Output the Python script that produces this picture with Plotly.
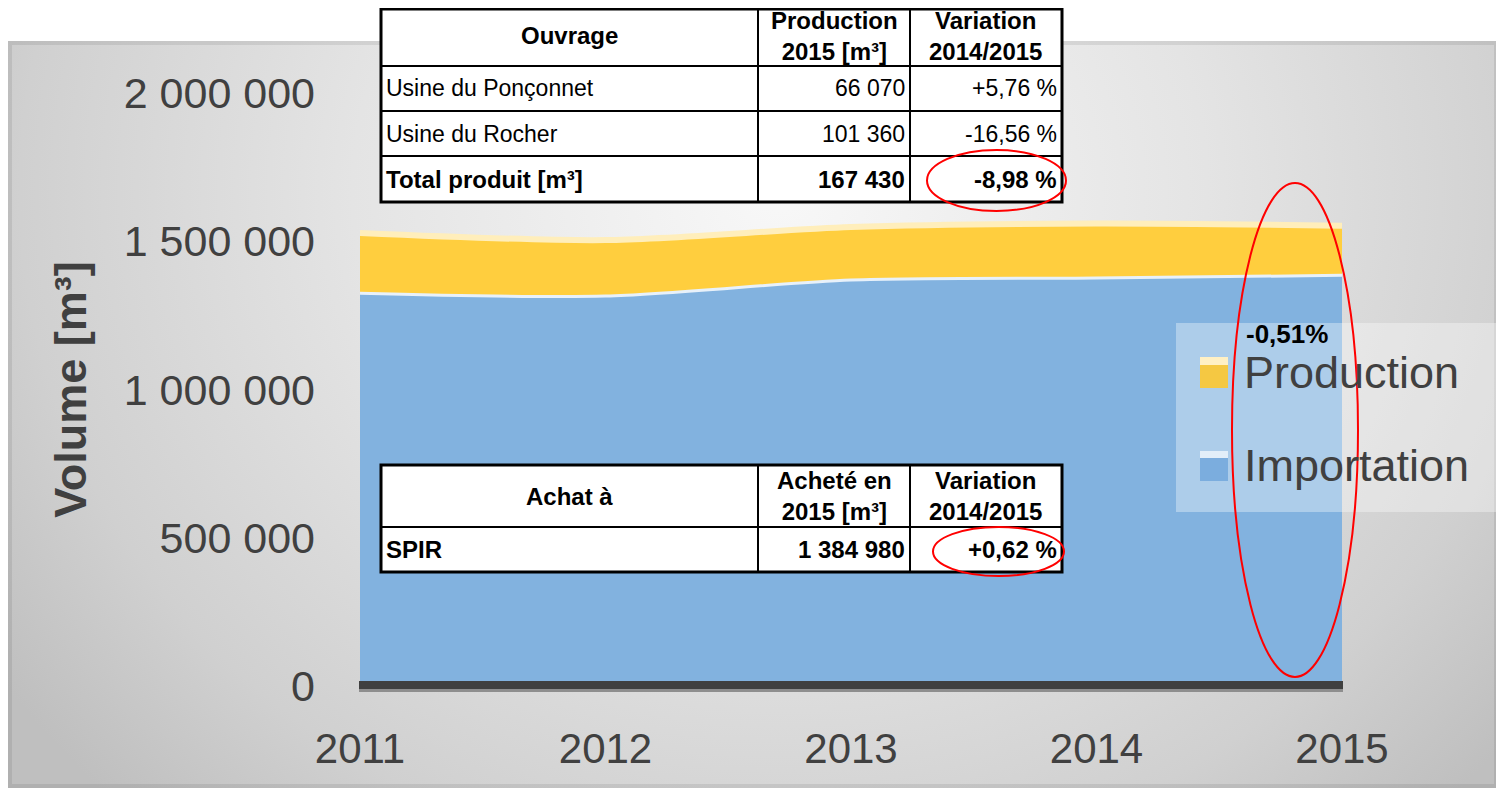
import base64
import plotly.graph_objects as go

# ---------------- data ----------------
years = ['2011', '2012', '2013', '2014', '2015']
importation = [1325000, 1315000, 1369000, 1376000, 1384980]
production = [203000, 189000, 179000, 184000, 167430]

y_tickvals = [0, 500000, 1000000, 1500000, 2000000]
y_ticktext = ['0', '500 000', '1 000 000', '1 500 000', '2 000 000']

t1_header = ['Ouvrage', 'Production<br>2015 [m³]', 'Variation<br>2014/2015']
t1_ouvrage = ['Usine du Ponçonnet', 'Usine du Rocher', 'Total produit [m³]']
t1_production = ['66 070', '101 360', '167 430']
t1_variation = ['+5,76 %', '-16,56 %', '-8,98 %']

t2_header = ['Achat à', 'Acheté en<br>2015 [m³]', 'Variation<br>2014/2015']
t2_achat = ['SPIR']
t2_achete = ['1 384 980']
t2_variation = ['+0,62 %']

legend_labels = ['Production', 'Importation']
total_variation_label = '-0,51%'
y_title = 'Volume [m³]'

# ---------------- helpers ----------------
# the page body has an 8px margin: the figure is sized and positioned to fill the window
OX, OY = 8, 8
W, H = 1496, 784
FONT = 'Liberation Sans, Arial, sans-serif'
GREY_TXT = '#404040'
YELLOW = '#FFCE3E'
BLUE = '#82B2DF'


def px(x):
    return (x - OX) / W


def py(y):
    return 1 - (y - OY) / H


def rect(x0, y0, x1, y1, fill=None, line_color=None, lw=0, layer='above'):
    d = dict(type='rect', xref='paper', yref='paper', x0=px(x0), x1=px(x1), y0=py(y1), y1=py(y0),
             line=dict(width=lw, color=line_color or 'rgba(0,0,0,0)'), layer=layer)
    if fill:
        d['fillcolor'] = fill
    return d


def hline(x0, x1, y, lw=2):
    return dict(type='line', xref='paper', yref='paper', x0=px(x0), x1=px(x1), y0=py(y), y1=py(y),
                line=dict(color='black', width=lw), layer='above')


def vline(x, y0, y1, lw=2):
    return dict(type='line', xref='paper', yref='paper', x0=px(x), x1=px(x), y0=py(y0), y1=py(y1),
                line=dict(color='black', width=lw), layer='above')


def txt(text, x, y, anchor, size, bold=False, color='black'):
    return dict(text=f'<b>{text}</b>' if bold else text, xref='paper', yref='paper',
                x=px(x), y=py(y), xanchor=anchor, yanchor='middle', showarrow=False,
                borderpad=0, align='center', font=dict(family=FONT, size=size, color=color))


# background gradient panel (svg data uri)
svg = '''<svg xmlns="http://www.w3.org/2000/svg" width="1490" height="747" viewBox="0 0 1490 747">
<defs><radialGradient id="g" gradientUnits="userSpaceOnUse" cx="0" cy="0" r="950"
 gradientTransform="translate(772,150) scale(1,0.9)">
<stop offset="0" stop-color="#f8f8f8"/><stop offset="0.45" stop-color="#e4e4e4"/>
<stop offset="0.8" stop-color="#d0d0d0"/><stop offset="1" stop-color="#bfbfbf"/>
</radialGradient></defs>
<rect width="1490" height="747" fill="url(#g)"/>
<rect x="2" y="2" width="1486" height="743" fill="none" stroke="#000" stroke-opacity="0.08" stroke-width="4"/>
</svg>'''
svg_uri = 'data:image/svg+xml;base64,' + base64.b64encode(svg.encode()).decode()

fig = go.Figure()

fig.add_trace(go.Scatter(
    x=years, y=importation, name=legend_labels[1], stackgroup='one', mode='lines',
    line=dict(color='#e8f1fa', width=3, shape='spline', smoothing=0.8),
    fillcolor=BLUE, showlegend=False, hoverinfo='x+y'))
fig.add_trace(go.Scatter(
    x=years, y=production, name=legend_labels[0], stackgroup='one', mode='lines',
    line=dict(color='#ffeebb', width=6, shape='spline', smoothing=0.8),
    fillcolor=YELLOW, showlegend=False, hoverinfo='x+y'))

# ---------------- tables (page pixel geometry) ----------------
col_x = [381, 758, 910, 1062]
t1_rows = [9, 66, 111, 156, 202]
t2_rows = [465, 527, 572]
REG, BOLD = 23, 24

shapes = [
    # axis floor band
    rect(359, 689, 1343, 692, fill='#8e8e8e'),
    rect(359, 681, 1343, 689, fill='#404040'),
]
annotations = []


def add_table(rows, header, columns, bold_rows, header_dy=0):
    shapes.append(rect(col_x[0], rows[0], col_x[-1], rows[-1], fill='white'))
    for y in rows[1:-1]:
        shapes.append(hline(col_x[0], col_x[-1], y))
    for x in col_x[1:-1]:
        shapes.append(vline(x, rows[0], rows[-1]))
    shapes.append(rect(col_x[0], rows[0], col_x[-1], rows[-1], line_color='black', lw=3))
    hy = (rows[0] + rows[1]) / 2 + header_dy
    for c, h in enumerate(header):
        annotations.append(txt(h, (col_x[c] + col_x[c + 1]) / 2, hy, 'center', BOLD, bold=True))
    for r in range(len(columns[0])):
        cy = (rows[r + 1] + rows[r + 2]) / 2
        b = bold_rows[r]
        size = BOLD if b else REG
        annotations.append(txt(columns[0][r], col_x[0] + 4, cy, 'left', size, bold=b))
        annotations.append(txt(columns[1][r], col_x[2] - 4, cy, 'right', size, bold=b))
        annotations.append(txt(columns[2][r], col_x[3] - 4, cy, 'right', size, bold=b))


add_table(t1_rows, t1_header, [t1_ouvrage, t1_production, t1_variation], [False, False, True],
          header_dy=-2)
add_table(t2_rows, t2_header, [t2_achat, t2_achete, t2_variation], [True])

shapes += [
    # legend box and swatches
    rect(1176, 323, 1496, 512, fill='rgba(255,255,255,0.35)'),
    rect(1200, 357, 1228, 388, fill='#F5C842'),
    rect(1200, 357, 1228, 365, fill='#FFF0C4'),
    rect(1200, 451, 1228, 481, fill='#7BADDE'),
    rect(1200, 451, 1228, 458, fill='#E2EEF9'),
    # red ellipses
    dict(type='circle', xref='paper', yref='paper', x0=px(927), x1=px(1066), y0=py(211), y1=py(150),
         line=dict(color='#FF0000', width=2), layer='above'),
    dict(type='circle', xref='paper', yref='paper', x0=px(933), x1=px(1064), y0=py(576), y1=py(527),
         line=dict(color='#FF0000', width=2), layer='above'),
    dict(type='circle', xref='paper', yref='paper', x0=px(1232), x1=px(1358), y0=py(677), y1=py(183),
         line=dict(color='#FF0000', width=2), layer='above'),
]

annotations += [
    txt(legend_labels[0], 1243, 372, 'left', 45, color=GREY_TXT),
    txt(legend_labels[1], 1243, 466, 'left', 45, color=GREY_TXT),
    txt(total_variation_label, 1245, 334, 'left', 26, bold=True),
]

fig.update_layout(
    width=W, height=H,
    margin=dict(l=0, r=0, t=0, b=0, autoexpand=False),
    paper_bgcolor='white', plot_bgcolor='rgba(0,0,0,0)',
    showlegend=False,
    images=[dict(source=svg_uri, xref='paper', yref='paper', x=px(8), y=py(41),
                 sizex=1490 / W, sizey=747 / H, xanchor='left', yanchor='top',
                 sizing='stretch', layer='below')],
    shapes=shapes, annotations=annotations,
    xaxis=dict(domain=[px(360), px(1342)], type='category', range=[0, 4], automargin=False,
               showgrid=False, zeroline=False, showline=False, ticks='',
               tickfont=dict(family=FONT, size=42, color=GREY_TXT), ticklabelstandoff=34),
    yaxis=dict(domain=[py(686), py(93)], range=[0, 2000000], automargin=False,
               tickvals=y_tickvals, ticktext=y_ticktext,
               showgrid=True, gridcolor='rgba(0,0,0,0.07)', gridwidth=3,
               zeroline=False, showline=False, ticks='',
               tickfont=dict(family=FONT, size=43, color=GREY_TXT), ticklabelstandoff=44,
               title=dict(text=f'<b>{y_title}</b>', standoff=22,
                          font=dict(family=FONT, size=45, color=GREY_TXT))),
)

fig.write_html('out.html')
